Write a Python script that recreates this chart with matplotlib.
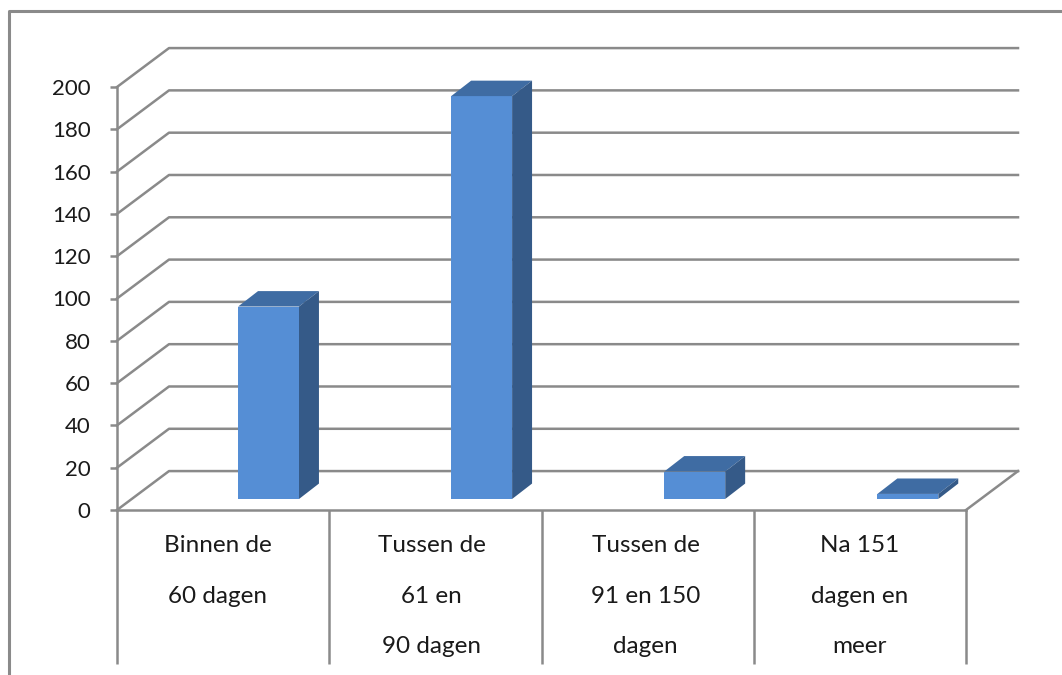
import matplotlib.pyplot as plt
from matplotlib.lines import Line2D
from matplotlib.patches import Polygon

plt.rcParams['font.family'] = ['Lato', 'DejaVu Sans']

categories = ["Binnen de\n60 dagen", "Tussen de\n61 en\n90 dagen",
              "Tussen de\n91 en 150\ndagen", "Na 151\ndagen en\nmeer"]
values = [91, 190.5, 13, 2.4]
yticks = list(range(0, 201, 20))

W, H = 1062, 675
grey = '#8a8a8a'
front, top, side = '#558ED5', '#3F6CA3', '#355A88'

# depth of the fake 3d box, in data units
wall_dx, wall_dy = 0.245, 18.4
bar_dx, bar_dy = 0.094, 7.3
bar_x, bar_w, bar_base, bar_step = 0.714, 0.287, 5.2, 1.004

fig = plt.figure(figsize=(W / 100, H / 100), dpi=100)
ax = fig.add_axes([117 / W, (H - 510) / H, 849 / W, 423 / H])
ax.set_xlim(0, 4)
ax.set_ylim(0, 200)
ax.patch.set_visible(False)

# outer frame, cut off by the image edge
fig.add_artist(Line2D([9 / W, 9 / W, 1], [0, 1 - 11 / H, 1 - 11 / H], color=grey, lw=2.2))

# walls
for y in yticks:
    ax.plot([0, wall_dx, 4 + wall_dx], [y, y + wall_dy, y + wall_dy],
            color=grey, lw=1.8, clip_on=False, zorder=1)
ax.plot([4, 4 + wall_dx], [0, wall_dy], color=grey, lw=1.8, clip_on=False, zorder=1)

# bars
for i, v in enumerate(values):
    x0 = i * bar_step + bar_x - bar_w / 2
    x1 = x0 + bar_w
    b = bar_base
    ax.bar(x0, v, bar_w, bottom=b, align='edge', color=front, zorder=3, clip_on=False)
    ax.add_patch(Polygon([(x0, b + v), (x1, b + v), (x1 + bar_dx, b + v + bar_dy), (x0 + bar_dx, b + v + bar_dy)],
                         color=top, lw=0, zorder=3, clip_on=False))
    ax.add_patch(Polygon([(x1, b), (x1 + bar_dx, b + bar_dy), (x1 + bar_dx, b + v + bar_dy), (x1, b + v)],
                         color=side, lw=0, zorder=3, clip_on=False))

for s in ['top', 'right']:
    ax.spines[s].set_visible(False)
for s in ['left', 'bottom']:
    ax.spines[s].set_color(grey)
    ax.spines[s].set_linewidth(1.8)

ax.set_yticks(yticks)
ax.tick_params(axis='y', length=5, width=1.8, color=grey, labelsize=16, labelcolor='#1a1a1a', pad=14)

# long x ticks make the table-like dividers
ax.set_xticks(range(5))
ax.set_xticklabels([])
ax.tick_params(axis='x', length=111, width=1.8, color=grey)

for i, lab in enumerate(categories):
    ax.text(i * 1.008 + 0.474, -12, lab, ha='center', va='top', fontsize=17.5,
            color='#1a1a1a', linespacing=2.72)

fig.savefig("out.png", dpi=100)
